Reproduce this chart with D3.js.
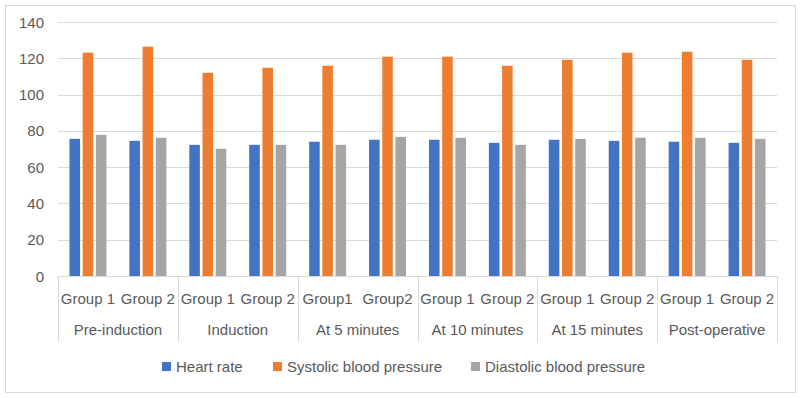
<!DOCTYPE html>
<html>
<head>
<meta charset="utf-8">
<script src="https://cdn.jsdelivr.net/npm/d3@7"></script>
<style>
  body { margin: 0; background: #fff; }
  text { font-family: "Liberation Sans", Arial, sans-serif; }
</style>
</head>
<body>
<svg id="chart" width="801" height="398"></svg>
<script>
// data
const phases = ["Pre-induction", "Induction", "At 5 minutes", "At 10 minutes", "At 15 minutes", "Post-operative"];
const groupLabels = [
    ["Group 1", "Group 2"], ["Group 1", "Group 2"], ["Group1", "Group2"],
    ["Group 1", "Group 2"], ["Group 1", "Group 2"], ["Group 1", "Group 2"]
];
const seriesNames = ["Heart rate", "Systolic blood pressure", "Diastolic blood pressure"];
const heartRate = [75.6, 74.5, 72.3, 72.3, 74.0, 75.1, 75.1, 73.4, 75.1, 74.5, 74.0, 73.4];
const systolic = [123.1, 126.4, 112.0, 114.8, 115.9, 120.9, 120.9, 115.9, 119.2, 123.1, 123.6, 119.2];
const diastolic = [77.8, 76.2, 70.1, 72.3, 72.3, 76.7, 76.2, 72.3, 75.6, 76.2, 76.2, 75.6];
const yTicks = [0, 20, 40, 60, 80, 100, 120, 140];
const colors = ["#4472C4", "#ED7D31", "#A5A5A5"];

const series = [heartRate, systolic, diastolic];
const slots = d3.range(phases.length * 2);

const svg = d3.select("#chart");
const plotLeft = 58, plotRight = 777, plotTop = 22, plotBottom = 276;

// outer border
svg.append("rect")
    .attr("x", 5.5).attr("y", 5.5)
    .attr("width", 790).attr("height", 387)
    .attr("fill", "#fff")
    .attr("stroke", "#D9D9D9");

const y = d3.scaleLinear().domain([0, 140]).range([plotBottom, plotTop]);

const x0 = d3.scaleBand()
    .domain(slots)
    .range([plotLeft, plotRight])
    .paddingInner(0.383)
    .paddingOuter(0.383 / 2);

const x1 = d3.scaleBand()
    .domain(d3.range(series.length))
    .range([0, x0.bandwidth()])
    .paddingInner(0.2);

const xPhase = d3.scaleBand().domain(phases).range([plotLeft, plotRight]);

// gridlines
svg.append("g")
    .selectAll("line")
    .data(yTicks)
    .join("line")
    .attr("x1", plotLeft).attr("x2", plotRight)
    .attr("y1", d => Math.round(y(d)) + 0.5)
    .attr("y2", d => Math.round(y(d)) + 0.5)
    .attr("stroke", "#D9D9D9");

// y labels
svg.append("g")
    .selectAll("text")
    .data(yTicks)
    .join("text")
    .attr("x", 44)
    .attr("y", d => y(d) + 5.5)
    .attr("text-anchor", "end")
    .attr("font-size", 15)
    .attr("fill", "#595959")
    .text(d => d);

// bars
const g = svg.append("g");
series.forEach((vals, si) => {
    g.selectAll(null)
        .data(slots)
        .join("rect")
        .attr("x", i => x0(i) + x1(si))
        .attr("y", i => y(vals[i]))
        .attr("width", x1.bandwidth())
        .attr("height", i => y(0) - y(vals[i]))
        .attr("fill", colors[si]);
});

// category separators
svg.append("g")
    .selectAll("line")
    .data(d3.range(phases.length + 1))
    .join("line")
    .attr("x1", i => Math.round(plotLeft + i * xPhase.step()) + 0.5)
    .attr("x2", i => Math.round(plotLeft + i * xPhase.step()) + 0.5)
    .attr("y1", plotBottom)
    .attr("y2", 342)
    .attr("stroke", "#D9D9D9");

// group labels
svg.append("g")
    .selectAll("text")
    .data(slots)
    .join("text")
    .attr("x", i => x0(i) + x0.bandwidth() / 2)
    .attr("y", 304)
    .attr("text-anchor", "middle")
    .attr("font-size", 15)
    .attr("fill", "#595959")
    .text(i => groupLabels[Math.floor(i / 2)][i % 2]);

// phase labels
svg.append("g")
    .selectAll("text")
    .data(phases)
    .join("text")
    .attr("x", d => xPhase(d) + xPhase.bandwidth() / 2)
    .attr("y", 335)
    .attr("text-anchor", "middle")
    .attr("font-size", 15)
    .attr("fill", "#595959")
    .text(d => d);

// legend
const legendX = [162, 273, 471];
const legend = svg.append("g")
    .selectAll("g")
    .data(seriesNames)
    .join("g")
    .attr("transform", (d, i) => `translate(${legendX[i]}, 362)`);

legend.append("rect")
    .attr("width", 9).attr("height", 9)
    .attr("fill", (d, i) => colors[i]);

legend.append("text")
    .attr("x", 14)
    .attr("y", 10)
    .attr("font-size", 15)
    .attr("fill", "#595959")
    .text(d => d);
</script>
</body>
</html>
